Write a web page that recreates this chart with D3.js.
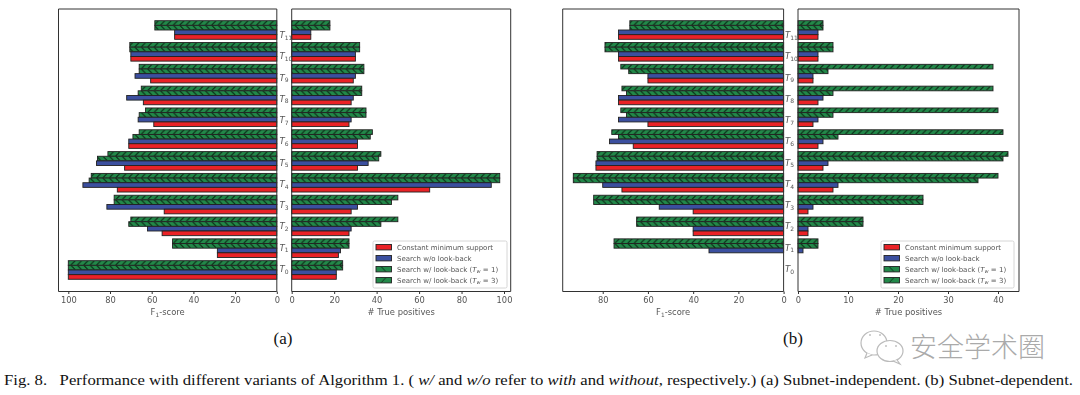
<!DOCTYPE html>
<html>
<head>
<meta charset="utf-8">
<script src="https://cdn.jsdelivr.net/npm/d3@7"></script>
<style>
  html, body { margin: 0; padding: 0; background: #fff; }
  svg { display: block; }
  text { font-family: "DejaVu Sans", sans-serif; fill: #555; }
  .axis text { font-size: 8.3px; }
  .axis path, .axis line { stroke: #333; stroke-width: 1; }
  .paper { font-family: "Liberation Serif", serif; fill: #111; }
</style>
</head>
<body>
<svg id="chart" width="1080" height="395"></svg>
<script>
const categories = ['T0', 'T1', 'T2', 'T3', 'T4', 'T5', 'T6', 'T7', 'T8', 'T9', 'T10', 'T11'];
const seriesNames = ['Search w/ look-back (T_w = 3)', 'Search w/ look-back (T_w = 1)', 'Search w/o look-back', 'Constant minimum support'];
const legendOrder = [3, 2, 1, 0];

// panel (a), subnet-independent
const aScoreRed = [100, 28.5, 55, 54, 76.5, 73, 71, 59, 64, 60.5, 70, 49];
const aScoreBlue = [100, 28.5, 62, 81.5, 93, 86.5, 71, 66.5, 72, 68, 70, 49];
const aScoreW1 = [100, 50, 71, 78, 90, 86, 69, 66, 66.5, 66, 70.5, 58.5];
const aScoreW3 = [100, 50, 70, 78, 89, 81, 66, 63, 65, 66, 70.5, 58.5];
const aTpRed = [21, 22, 27, 28, 65, 31, 31, 27, 28, 29, 30, 9];
const aTpBlue = [21, 23, 28, 31, 94, 36, 31, 28, 29, 30, 30, 9];
const aTpW1 = [24, 27, 42, 47, 98, 41, 37, 35, 33, 34, 32, 18];
const aTpW3 = [24, 27, 50, 50, 98, 42, 38, 35, 33, 34, 32, 18];

// panel (b), subnet-dependent
const bScoreRed = [0, 0, 40, 40, 71.5, 83, 66.5, 60, 73, 60, 73, 73];
const bScoreBlue = [0, 33, 40, 55, 80, 83, 77, 73, 73, 60, 73, 73];
const bScoreW1 = [0, 75, 65, 84, 93, 82.5, 73, 69.5, 69.5, 68.5, 79, 68];
const bScoreW3 = [0, 75, 65, 84, 93, 82.5, 76, 72, 71.5, 72, 79, 68];
const bTpRed = [0, 0, 2, 2, 7, 5, 4, 3, 4, 3, 4, 4];
const bTpBlue = [0, 1, 2, 3, 8, 6, 5, 4, 5, 3, 4, 4];
const bTpW1 = [0, 4, 13, 25, 36, 41, 8, 7, 7, 6, 7, 5];
const bTpW3 = [0, 4, 13, 25, 40, 42, 41, 40, 39, 39, 7, 5];

const scoreTicksA = [0, 20, 40, 60, 80, 100];
const tpTicksA = [0, 20, 40, 60, 80, 100];
const scoreTicksB = [0, 20, 40, 60, 80];
const tpTicksB = [0, 10, 20, 30, 40];

const barFill = ['url(#hatchF)', 'url(#hatchB)', '#3a4f9f', '#ea2027'];

const svg = d3.select('#chart');
const defs = svg.append('defs');

const yScale = d3.scaleBand().domain(categories).range([280.9, 19.1]);
const yInner = d3.scaleBand().domain(d3.range(4)).range([1.6, 20.2]);
// the T labels sit on a slightly tighter spacing than the bars in the reference
const labelScale = d3.scalePoint().domain(categories).range([272, 38]);

// matplotlib style hatches, '/' for T_w = 3 and '\' for T_w = 1
// tile height divides the group step so each bar gets the same phase
const tileH = yScale.step() / 5;
function addHatch(id, d, y0) {
    const p = defs.append('pattern')
        .attr('id', id)
        .attr('patternUnits', 'userSpaceOnUse')
        .attr('patternTransform', `translate(0,${y0})`)
        .attr('width', 6.4)
        .attr('height', tileH);
    p.append('rect').attr('width', 6.4).attr('height', tileH).attr('fill', '#23894a');
    p.append('path').attr('d', d).attr('stroke', '#0a2a15').attr('stroke-width', 1.05).attr('fill', 'none');
}
addHatch('hatchF', `M0.6,${tileH}L4.8,0`, yScale('T0') + yInner(0));
addHatch('hatchB', `M0.6,0L4.8,${tileH}`, yScale('T0') + yInner(1));

// the reference is a soft raster, a tiny blur gets the same edges
defs.append('filter').attr('id', 'soft')
    .append('feGaussianBlur').attr('stdDeviation', 0.35);

const root = svg.append('g').attr('filter', 'url(#soft)');

// one half of a butterfly, x scale decides which way the bars grow
function drawHalf(xDomain, xRange, ticks, label, rows, spine) {
    const x = d3.scaleLinear().domain(xDomain).range(xRange);
    const g = root.append('g');

    rows.forEach((values, s) => {
        g.selectAll(null).data(categories)
            .enter().append('rect')
            .attr('x', (d, i) => Math.min(x(0), x(values[i])))
            .attr('y', d => yScale(d) + yInner(s))
            .attr('width', (d, i) => Math.abs(x(values[i]) - x(0)))
            .attr('height', yInner.bandwidth())
            .attr('fill', barFill[s])
            .attr('stroke', (d, i) => values[i] > 0 ? '#222' : 'none')
            .attr('stroke-width', 0.9);
    });

    const axis = root.append('g')
        .attr('class', 'axis')
        .attr('transform', 'translate(0,291.5)')
        .call(d3.axisBottom(x).tickValues(ticks).tickSize(2.5).tickPadding(3.5).tickSizeOuter(0));
    axis.select('.domain').attr('d', `M${spine[0]},0H${spine[1]}`);

    // box around the half
    spine.forEach(sx => {
        root.append('line').attr('x1', sx).attr('x2', sx)
            .attr('y1', 9).attr('y2', 291.5)
            .attr('stroke', '#333').attr('stroke-width', 1);
    });
    root.append('line').attr('x1', spine[0]).attr('x2', spine[1])
        .attr('y1', 9).attr('y2', 9)
        .attr('stroke', '#333').attr('stroke-width', 1);

    const mid = (spine[0] + spine[1]) / 2;
    if (label === 'F1') {
        const t = root.append('text').attr('x', mid).attr('y', 315).attr('text-anchor', 'middle').style('font-size', '8.4px');
        t.append('tspan').text('F');
        t.append('tspan').attr('dy', 1.5).style('font-size', '5.8px').text('1');
        t.append('tspan').attr('dy', -1.5).text('-score');
    } else {
        root.append('text').attr('x', mid).attr('y', 315).attr('text-anchor', 'middle').style('font-size', '8.4px').text(label);
    }
}

function drawCategoryLabels(lx) {
    const t = root.selectAll(null).data(categories).enter().append('text')
        .attr('x', lx)
        .attr('y', d => labelScale(d))
        .style('font-size', '8.6px');
    t.append('tspan').style('font-style', 'italic').text('T');
    t.append('tspan').attr('dy', 1.6).style('font-size', '6px').text(d => d.slice(1));
}

function drawLegend(bx, bw) {
    const g = root.append('g').attr('transform', `translate(${bx},241)`);
    g.append('rect').attr('width', bw).attr('height', 47).attr('rx', 1.5)
        .attr('fill', '#fff').attr('stroke', '#ccc').attr('stroke-width', 0.8);
    const row = g.selectAll(null).data(legendOrder).enter().append('g')
        .attr('transform', (d, i) => `translate(3,${6.2 + i * 11})`);
    row.append('rect').attr('y', -2.7).attr('width', 15.5).attr('height', 5.4)
        .attr('fill', d => d < 2 ? `url(#legend${d})` : barFill[d]).attr('stroke', '#222').attr('stroke-width', 0.9);
    const t = row.append('text').attr('x', 21).attr('y', 2.6).style('font-size', '7px');
    t.each(function(d) {
        const name = seriesNames[d];
        const el = d3.select(this);
        if (name.includes('T_w')) {
            const n = name.match(/= (\d)/)[1];
            el.append('tspan').text('Search w/ look-back (');
            el.append('tspan').style('font-style', 'italic').text('T');
            el.append('tspan').attr('dy', 1.2).style('font-size', '5px').style('font-style', 'italic').text('w');
            el.append('tspan').attr('dy', -1.2).text(` = ${n})`);
        } else {
            el.text(name);
        }
    });
}

// legend swatches only show one or two strokes
[['legend0', 'M5,5.4L10,0'], ['legend1', 'M5,0L10,5.4']].forEach(([id, d]) => {
    const p = defs.append('pattern').attr('id', id)
        .attr('patternContentUnits', 'userSpaceOnUse').attr('patternUnits', 'objectBoundingBox')
        .attr('width', 1).attr('height', 1);
    p.append('rect').attr('width', 15.5).attr('height', 5.4).attr('fill', '#23894a');
    p.append('path').attr('d', d).attr('stroke', '#0a2a15').attr('stroke-width', 0.9);
});

// (a)
drawHalf([100, 0], [68.3, 276.8], scoreTicksA, 'F1', [aScoreW3, aScoreW1, aScoreBlue, aScoreRed], [58.5, 276.8]);
drawHalf([0, 100], [291.7, 504], tpTicksA, '# True positives', [aTpW3, aTpW1, aTpBlue, aTpRed], [291.7, 510.7]);
drawCategoryLabels(279.5);
drawLegend(373, 134);

// (b)
drawHalf([97.7, 0], [562.7, 783.6], scoreTicksB, 'F1', [bScoreW3, bScoreW1, bScoreBlue, bScoreRed], [562.7, 783.6]);
drawHalf([0, 44.2], [798, 1019], tpTicksB, '# True positives', [bTpW3, bTpW1, bTpBlue, bTpRed], [798, 1019]);
drawCategoryLabels(785);
drawLegend(881, 133);

// figure labels and caption
svg.append('text').attr('class', 'paper').attr('x', 283).attr('y', 344).attr('text-anchor', 'middle').style('font-size', '17px').text('(a)');
svg.append('text').attr('class', 'paper').attr('x', 793).attr('y', 344).attr('text-anchor', 'middle').style('font-size', '17px').text('(b)');

const caption = svg.append('text').attr('class', 'paper').attr('x', 4).attr('y', 385)
    .attr('textLength', 1069).attr('lengthAdjust', 'spacingAndGlyphs').style('font-size', '14.6px');
caption.append('tspan').attr('xml:space', 'preserve').text('Fig. 8.\u00a0\u00a0 Performance with different variants of Algorithm 1. ( ');
caption.append('tspan').style('font-style', 'italic').text('w/');
caption.append('tspan').text(' and ');
caption.append('tspan').style('font-style', 'italic').text('w/o');
caption.append('tspan').text(' refer to ');
caption.append('tspan').style('font-style', 'italic').text('with');
caption.append('tspan').text(' and ');
caption.append('tspan').style('font-style', 'italic').text('without');
caption.append('tspan').text(', respectively.) (a) Subnet-independent. (b) Subnet-dependent.');

// watermark, two chat bubbles and the account name
const mark = svg.append('g').attr('fill', '#fff').attr('stroke', '#bbb').attr('stroke-width', 1.2);
mark.append('ellipse').attr('cx', 874).attr('cy', 343).attr('rx', 13).attr('ry', 12);
mark.append('path').attr('d', 'M867,353L865,358L872,355');
mark.append('ellipse').attr('cx', 890).attr('cy', 351).attr('rx', 13).attr('ry', 10.5);
mark.append('path').attr('d', 'M897,360L900,364L893,361');
[[870, 335], [880, 335], [886, 346], [896, 346]].forEach(([cx, cy]) => {
    mark.append('circle').attr('cx', cx).attr('cy', cy).attr('r', 0.9).attr('fill', '#bbb').attr('stroke', 'none');
});
svg.append('text').attr('x', 910).attr('y', 357)
    .style('font-family', '"Noto Sans CJK SC"').style('font-size', '27px').style('font-weight', 300)
    .style('fill', '#aaa').text('安全学术圈');
</script>
</body>
</html>
